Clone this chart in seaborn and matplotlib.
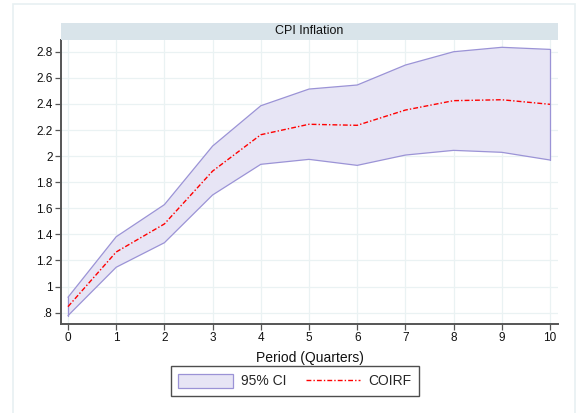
import matplotlib
matplotlib.use("Agg")
import matplotlib.pyplot as plt
from matplotlib.patches import Rectangle, Patch
from matplotlib.lines import Line2D
import seaborn as sns
import pandas as pd

# Cumulative orthogonalized IRF of CPI inflation with 95% band
period = [0, 1, 2, 3, 4, 5, 6, 7, 8, 9, 10]
coirf = [0.846, 1.265, 1.480, 1.885, 2.164, 2.244, 2.236, 2.353, 2.425, 2.432, 2.397]
ci_lower = [0.777, 1.148, 1.336, 1.702, 1.937, 1.975, 1.929, 2.008, 2.044, 2.029, 1.970]
ci_upper = [0.918, 1.382, 1.628, 2.077, 2.386, 2.514, 2.545, 2.698, 2.800, 2.834, 2.818]
yticks = [0.8, 1.0, 1.2, 1.4, 1.6, 1.8, 2.0, 2.2, 2.4, 2.6, 2.8]
ytick_labels = [".8", "1", "1.2", "1.4", "1.6", "1.8", "2", "2.2", "2.4", "2.6", "2.8"]

df = pd.DataFrame({"period": period, "coirf": coirf,
                   "lower": ci_lower, "upper": ci_upper})

sns.set_theme(style="white")
plt.rcParams["font.family"] = ["Liberation Sans", "DejaVu Sans"]

W, H = 577, 413
fig = plt.figure(figsize=(W / 100, H / 100), dpi=100)
fig.patch.set_facecolor("white")

# outer graph region frame
fig.add_artist(Rectangle((13 / W, -0.05), (575 - 13) / W, (H - 4) / H + 0.05,
                         transform=fig.transFigure, fill=False,
                         edgecolor="#E8F0F2", linewidth=1.2))

ax = fig.add_axes([61 / W, (H - 324) / H, (558 - 61) / W, (324 - 40) / H])
ax.set_facecolor("white")

band_fill = "#E7E5F5"
band_edge = "#9B93D6"
ax.fill_between(df["period"], df["lower"], df["upper"], facecolor=band_fill,
                edgecolor="none", zorder=2)
ax.plot(df["period"], df["lower"], color=band_edge, lw=0.9, zorder=3)
ax.plot(df["period"], df["upper"], color=band_edge, lw=0.9, zorder=3)
ax.plot([df["period"].iloc[0]] * 2, [ci_lower[0], ci_upper[0]], color=band_edge, lw=0.9, zorder=3)
ax.plot([df["period"].iloc[-1]] * 2, [ci_lower[-1], ci_upper[-1]], color=band_edge, lw=0.9, zorder=3)

sns.lineplot(data=df, x="period", y="coirf", ax=ax, color="red", lw=1.0,
             zorder=4, legend=False)
ax.lines[-1].set_dashes([3.5, 1.5, 1, 1.5])

ax.set_xlim(-0.145, 10.166)
ax.set_ylim(0.713, 2.89)
ax.set_xticks(period)
ax.set_xticklabels([str(p) for p in period], fontsize=8.5)
ax.set_yticks(yticks)
ax.set_yticklabels(ytick_labels, fontsize=8.5)
ax.grid(True, color="#EAF2F3", lw=0.9, zorder=0)
ax.set_axisbelow(True)

for side in ["top", "right"]:
    ax.spines[side].set_visible(False)
for side in ["left", "bottom"]:
    ax.spines[side].set_color("#555555")
    ax.spines[side].set_linewidth(1.4)
ax.tick_params(axis="both", which="major", direction="out", length=4,
               width=0.9, color="#555555", pad=2, labelcolor="#111111",
               left=True, bottom=True)

ax.set_xlabel("Period (Quarters)", fontsize=10, labelpad=5, color="#111111")
ax.set_ylabel("")

# subtitle band
fig.add_artist(Rectangle((61 / W, (H - 40) / H), (558 - 61) / W, 17 / H,
                         transform=fig.transFigure, facecolor="#D9E4EA",
                         edgecolor="none"))
fig.text((61 + 558) / 2 / W, (H - 31.5) / H, "CPI Inflation", ha="center",
         va="center", fontsize=9, color="#111111")

handles = [Patch(facecolor=band_fill, edgecolor=band_edge, lw=0.9),
           Line2D([0], [0], color="red", lw=1.0, dashes=[3.5, 1.5, 1, 1.5])]
leg = fig.legend(handles, ["95% CI", "COIRF"], loc="center",
                 bbox_to_anchor=(295 / W, (H - 381) / H), ncol=2,
                 frameon=True, fancybox=False, fontsize=10,
                 handlelength=3.9, handleheight=1.2, columnspacing=1.4,
                 borderpad=0.55, handletextpad=0.6)
leg.get_frame().set_edgecolor("#222222")
leg.get_frame().set_linewidth(1.0)

fig.savefig("out.png", dpi=100)
